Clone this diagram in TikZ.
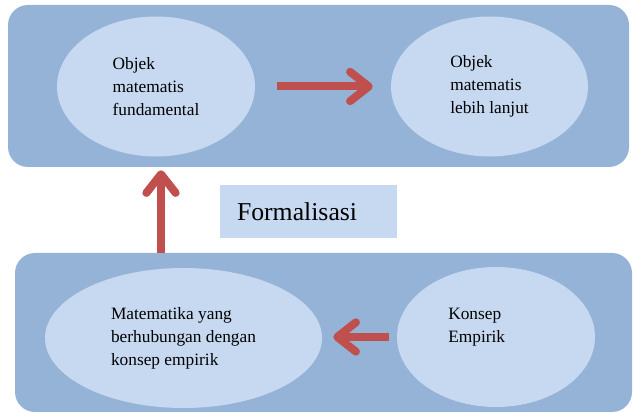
\documentclass[tikz,border=0pt]{standalone}
\usepackage{fontspec}
\setmainfont{Liberation Serif}
\usetikzlibrary{arrows.meta,positioning,shapes.geometric}

\tikzset{
  panel/.style={draw=none, fill={rgb,255:red,149;green,179;blue,215}, rounded corners=15pt, inner sep=0pt},
  bubble/.style={ellipse, draw=none, fill={rgb,255:red,198;green,217;blue,241}, inner sep=0pt, align=left, font=\fontsize{13}{17.25}\selectfont},
  bubbletext/.style={inner sep=0pt, align=left, font=\fontsize{13}{17.25}\selectfont},
  titlebox/.style={rectangle, draw=none, fill={rgb,255:red,198;green,217;blue,241}, inner xsep=12.75pt, inner ysep=0pt, minimum height=39.75pt, text width=107.25pt, align=left, font=\fontsize{19.3}{23}\selectfont},
  bigarrow/.style={draw={rgb,255:red,192;green,80;blue,77}, line width=6pt, -{Straight Barb[round,length=14pt,width=22pt]}}
}

\begin{document}
\begin{tikzpicture}[x=0.75pt,y=0.75pt,yscale=-1,xscale=1]
\useasboundingbox (0,0) rectangle (633,413);

%Shape: Rounded Rect [top]
\node[panel, minimum width=465.75pt, minimum height=121.5pt] (toppanel) at (318.5,86) {};
%Shape: Rounded Rect [bottom]
\node[panel, minimum width=462.75pt, minimum height=119.25pt] (botpanel) at (323.5,332.5) {};

%Shape: Ellipse
\node[bubble, minimum width=148.5pt, minimum height=105pt] (fundamental) at (156,86.5) {Objek\\matematis\\fundamental};
%Shape: Ellipse
\node[bubble, minimum width=147.75pt, minimum height=105pt] (lanjut) at (489.5,86.5) {Objek\\matematis\\lebih lanjut};
%Shape: Ellipse
\node[bubble, minimum width=207.75pt, minimum height=105pt] (empirik) at (183.5,338) {Matematika yang\\berhubungan dengan\\konsep empirik};
%Shape: Ellipse
\node[bubble, minimum width=148.5pt, minimum height=105pt] (konsep) at (496,337) {};
\node[bubbletext, anchor=west] (konseplabel) at (448,327) {Konsep\\Empirik};

%Shape: Rectangle
\node[titlebox] (formal) at (308.5,211.5) {Formalisasi};

%Arrows
\draw[bigarrow, shorten <=16.5pt, shorten >=13.5pt] (fundamental.east) -- (lanjut.west);
\draw[bigarrow, shorten <=6pt, shorten >=8.25pt] (konsep.west) -- (konsep.west -| empirik.east);
\draw[bigarrow, shorten >=2.25pt] (botpanel.north -| 161,0) -- (toppanel.south -| 161,0);

\end{tikzpicture}
\end{document}
